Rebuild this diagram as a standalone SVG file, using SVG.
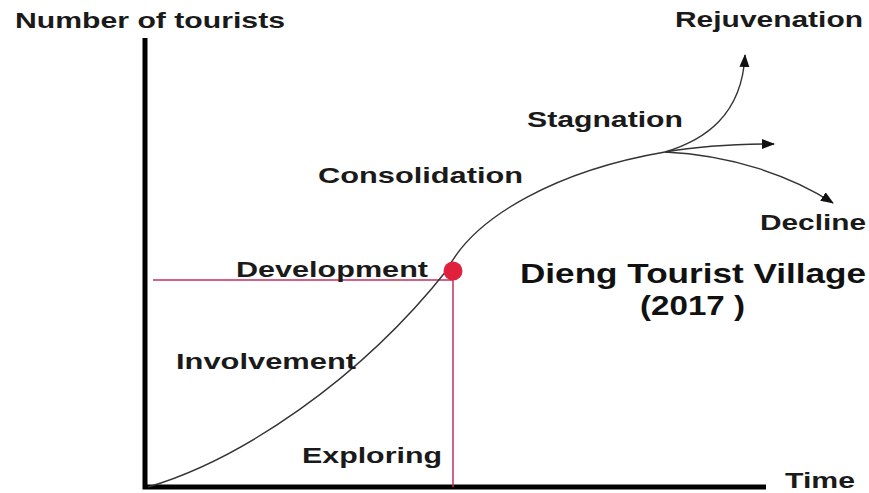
<svg xmlns="http://www.w3.org/2000/svg" width="869" height="493" viewBox="0 0 869 493">
<style>
.lbl{font-family:"Liberation Sans",Arial,sans-serif;font-weight:bold;font-size:22px;fill:#1a1a1a}
.ttl{font-family:"Liberation Sans",Arial,sans-serif;font-weight:bold;font-size:27px;fill:#111}
.curve{fill:none;stroke:#333;stroke-width:1.4}
.guide{fill:none;stroke:#c4305e;stroke-width:1.5}
.axis{fill:none;stroke:#000;stroke-width:5}
</style>
<defs>
<marker id="arr" markerUnits="userSpaceOnUse" markerWidth="14" markerHeight="12" refX="12" refY="5" orient="auto">
<path d="M0,0 L13,5 L0,10 Z" fill="#111"/>
</marker>
</defs>
<rect width="869" height="493" fill="#fff"/>
<g id="axes">
<path class="axis" d="M145,38 V487 H766"/>
</g>
<g id="connectors">
<path class="guide" d="M153,280 H453 V487"/>
<path class="curve" d="M148,487 C240,460 360,380 447,270 C475,215 560,170 665,152"/>
<path class="curve" d="M665,152 C705,140 742,115 745,55" marker-end="url(#arr)"/>
<path class="curve" d="M665,152 C700,146 740,144 774,144" marker-end="url(#arr)"/>
<path class="curve" d="M665,152 C730,155 790,175 833,203" marker-end="url(#arr)"/>
</g>
<g id="development-point">
<circle cx="453" cy="271" r="9.5" fill="#e0213c"/>
</g>
<g id="labels">
<text class="lbl" x="15" y="28" textLength="270" lengthAdjust="spacingAndGlyphs">Number of tourists</text>
<text class="lbl" x="675" y="27" textLength="188" lengthAdjust="spacingAndGlyphs">Rejuvenation</text>
<text class="lbl" x="527" y="127" textLength="156" lengthAdjust="spacingAndGlyphs">Stagnation</text>
<text class="lbl" x="318" y="183" textLength="205" lengthAdjust="spacingAndGlyphs">Consolidation</text>
<text class="lbl" x="760" y="230" textLength="106" lengthAdjust="spacingAndGlyphs">Decline</text>
<text class="lbl" x="236" y="277" textLength="192" lengthAdjust="spacingAndGlyphs">Development</text>
<text class="lbl" x="176" y="369" textLength="180" lengthAdjust="spacingAndGlyphs">Involvement</text>
<text class="lbl" x="302" y="463" textLength="140" lengthAdjust="spacingAndGlyphs">Exploring</text>
<text class="lbl" x="785" y="488" textLength="70" lengthAdjust="spacingAndGlyphs">Time</text>
<text class="ttl" x="520" y="283" textLength="346" lengthAdjust="spacingAndGlyphs">Dieng Tourist Village</text>
<text class="ttl" x="640" y="315" textLength="105" lengthAdjust="spacingAndGlyphs">(2017 )</text>
</g>
</svg>
